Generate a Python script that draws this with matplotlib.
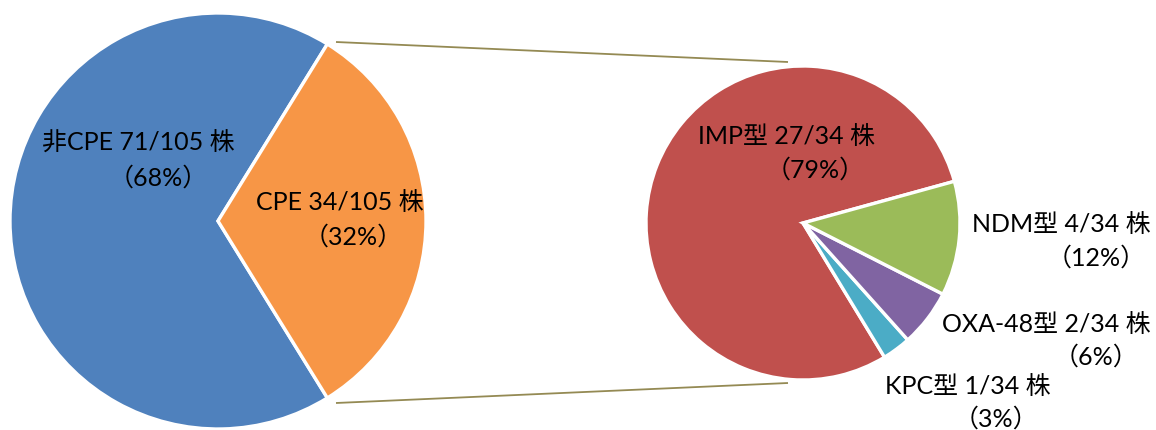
import matplotlib
matplotlib.use("Agg")
import matplotlib.pyplot as plt

# Overall split of isolates
outer_names = ["非CPE", "CPE"]
outer_counts = [71, 34]
outer_colors = ["#4F81BD", "#F79646"]

# Carbapenemase types within the CPE group
inner_names = ["IMP型", "KPC型", "OXA-48型", "NDM型"]
inner_counts = [27, 1, 2, 4]
inner_colors = ["#C0504D", "#4BACC6", "#8064A2", "#9BBB59"]

W, H = 1156, 430
fig = plt.figure(figsize=(W / 100, H / 100), dpi=100)
ax = fig.add_axes([0, 0, 1, 1])

FONT = ["Lato", "Noto Sans CJK JP"]
FS = 18

# Left pie: CPE slice centred on the right-hand side
L_c, L_r = (218, 209), 208
total_outer = sum(outer_counts)
cpe_span = 360 * outer_counts[1] / total_outer
ax.pie(outer_counts, colors=outer_colors, center=L_c, radius=L_r,
       startangle=cpe_span / 2, counterclock=True,
       wedgeprops=dict(edgecolor="white", linewidth=2.4), frame=True)

# Right pie: breakdown of the CPE slice
R_c, R_r = (803, 207), 157
total_inner = sum(inner_counts)
ax.pie(inner_counts, colors=inner_colors, center=R_c, radius=R_r,
       startangle=15.4, counterclock=True,
       wedgeprops=dict(edgecolor="white", linewidth=2.4), frame=True)

ax.set_xlim(0, W)
ax.set_ylim(0, H)
ax.set_aspect("equal")
ax.axis("off")

# Connector lines between the two pies
line_col = "#948A54"
ax.plot([336, 788], [388, 368], color=line_col, lw=1.3, solid_capstyle="butt")
ax.plot([336, 788], [27, 47], color=line_col, lw=1.3, solid_capstyle="butt")


def label(name, count, total, x1, y1, x2, y2, ha="center"):
    pct = round(100 * count / total)
    ax.text(x1, H - y1, f"{name} {count}/{total} 株", family=FONT, fontsize=FS,
            ha=ha, va="center", color="black")
    ax.text(x2, H - y2, f"（{pct}%）", family=FONT, fontsize=FS,
            ha="center", va="center", color="black")


label(outer_names[0], outer_counts[0], total_outer, 138.5, 143, 158, 178)
label(outer_names[1], outer_counts[1], total_outer, 339.5, 203, 353.5, 237)
label(inner_names[0], inner_counts[0], total_inner, 787, 137, 815, 170)
label(inner_names[3], inner_counts[3], total_inner, 1151, 225, 1096, 258, ha="right")
label(inner_names[2], inner_counts[2], total_inner, 1151, 324, 1096, 357, ha="right")
label(inner_names[1], inner_counts[1], total_inner, 967.5, 387, 996, 419)

fig.savefig("out.png", dpi=100, facecolor="white")
